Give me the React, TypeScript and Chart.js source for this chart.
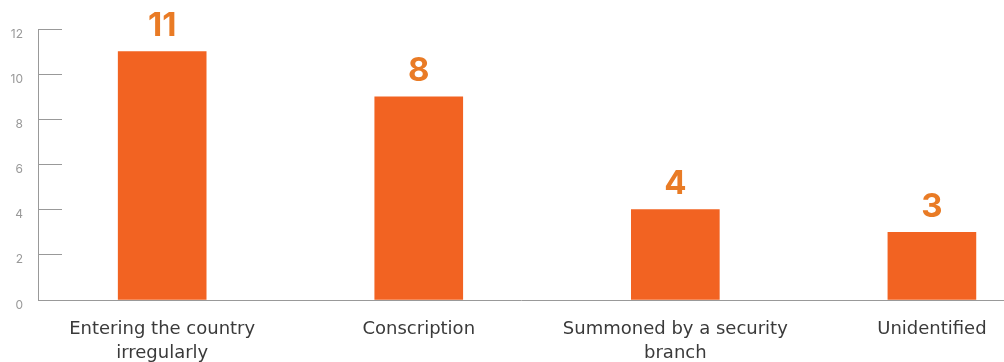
import React, { useEffect, useRef } from "react";
import { Chart, registerables } from "chart.js";

Chart.register(...registerables);

const categories: string[][] = [
  ["Entering the country", "irregularly"],
  ["Conscription"],
  ["Summoned by a security", "branch"],
  ["Unidentified"],
];
const positions = [0, 1, 2, 3];
const values = [11, 9, 4, 3];
const valueLabels = ["11", "8", "4", "3"];
const yTicks = [0, 2, 4, 6, 8, 10, 12];

const BAR = "#F26322";
const LABEL = "#E97B25";

const valueLabelPlugin = {
  id: "valueLabels",
  afterDatasetsDraw(chart: any) {
    const ctx = chart.ctx;
    const meta = chart.getDatasetMeta(0);
    ctx.save();
    ctx.fillStyle = LABEL;
    ctx.font = "bold 33px Inter, 'Noto Sans', sans-serif";
    ctx.textAlign = "center";
    ctx.textBaseline = "bottom";
    meta.data.forEach((el: any, i: number) => {
      ctx.fillText(valueLabels[i], el.x, el.y - 9);
    });
    ctx.restore();
  },
};

export default function App() {
  const ref = useRef<HTMLCanvasElement | null>(null);
  useEffect(() => {
    if (!ref.current) return;
    const chart = new Chart(ref.current, {
      type: "bar",
      data: {
        datasets: [
          {
            data: positions.map((p, i) => ({ x: p, y: values[i] })),
            backgroundColor: BAR,
            barThickness: 88,
          },
        ],
      },
      options: {
        animation: false,
        responsive: true,
        maintainAspectRatio: false,
        layout: { padding: { top: 29, right: 0, left: 0, bottom: 0 } },
        plugins: { legend: { display: false }, tooltip: { enabled: false } },
        scales: {
          x: {
            type: "linear",
            offset: false,
            min: -0.484,
            max: 3.281,
            afterBuildTicks: (s: any) => {
              s.ticks = positions.map((v) => ({ value: v }));
            },
            afterFit: (s: any) => {
              s.height = 62;
              s.paddingLeft = 0;
              s.paddingRight = 0;
            },
            grid: { display: false, drawTicks: false, offset: false },
            border: { display: true, color: "#999999", width: 1 },
            ticks: {
              autoSkip: false,
              maxRotation: 0,
              padding: 17,
              color: "#3a3a3a",
              font: { family: "'DejaVu Sans', sans-serif", size: 18, lineHeight: 1.35 },
              callback: (v: any) => categories[Number(v)] ?? "",
            },
          },
          y: {
            min: 0,
            max: 12,
            afterBuildTicks: (s: any) => {
              s.ticks = yTicks.map((v) => ({ value: v }));
            },
            afterFit: (s: any) => {
              s.width = 38;
              s.paddingTop = 0;
              s.paddingBottom = 0;
            },
            grid: {
              drawOnChartArea: false,
              drawTicks: true,
              tickLength: -24,
              color: "#999999",
            },
            border: { display: true, color: "#999999", width: 1 },
            ticks: {
              padding: 39,
              labelOffset: 5,
              color: "#999999",
              font: { family: "Inter, 'Noto Sans', sans-serif", size: 12 },
            },
          },
        },
      },
      plugins: [valueLabelPlugin],
    } as any);
    return () => chart.destroy();
  }, []);
  return (
    <div style={{ position: "fixed", left: 0, top: 0, width: 1004, height: 362 }}>
      <canvas ref={ref} />
    </div>
  );
}
